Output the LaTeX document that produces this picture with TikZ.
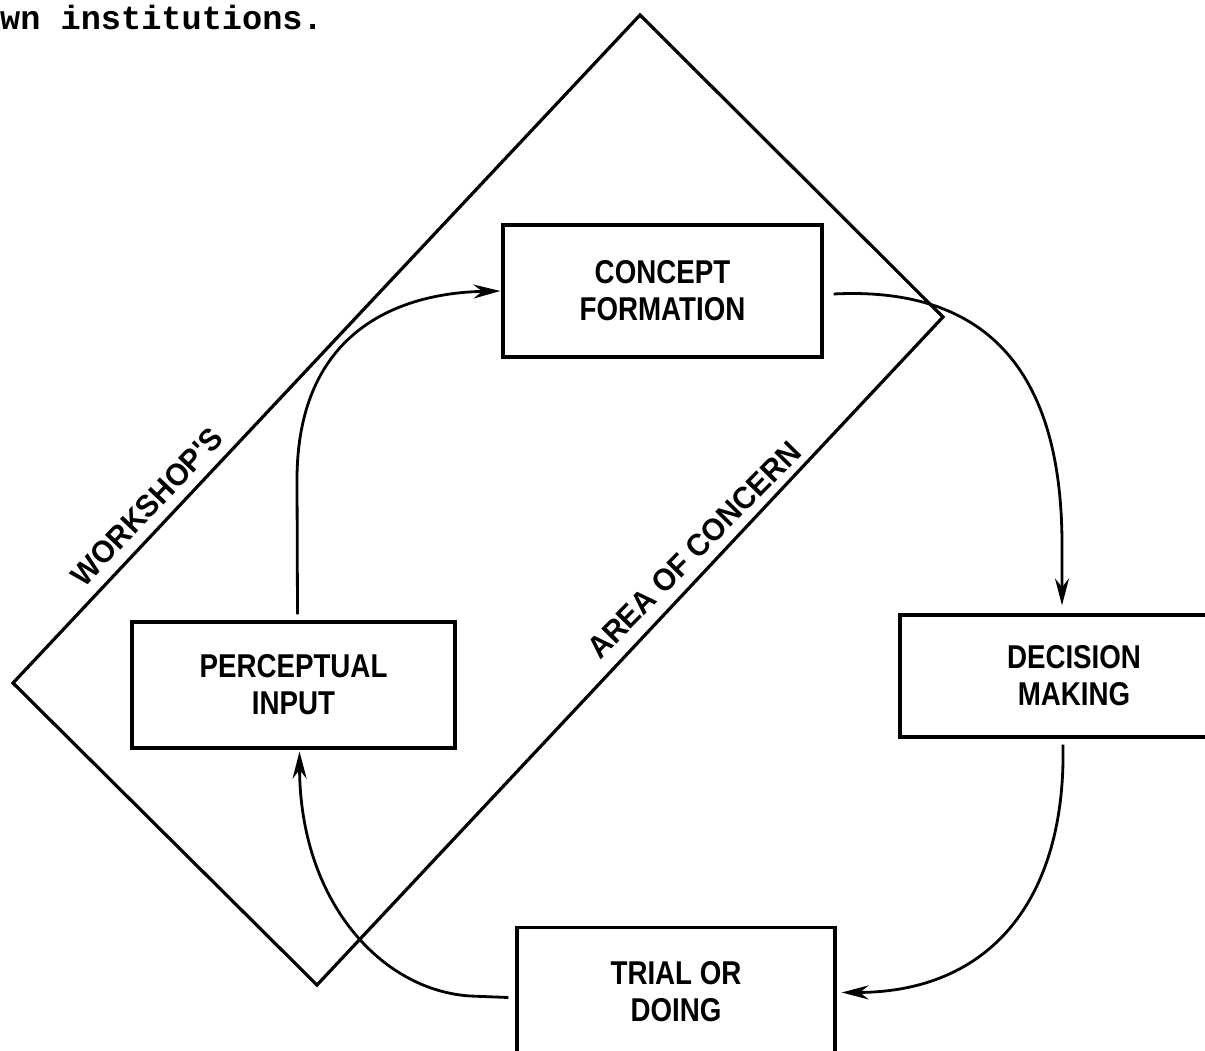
\documentclass[tikz,border=0pt]{standalone}
\usepackage{fontspec}
\usepackage{tikz}
\usetikzlibrary{arrows.meta,shapes}
\newfontfamily\boxfont[FakeStretch=0.84]{Liberation Sans}
\newfontfamily\edgefont[FakeStretch=0.95]{Liberation Sans}
\newfontfamily\typefont{Liberation Mono}
\tikzstyle{stage}=[rectangle,draw=black,line width=3.2pt,align=center,inner sep=0pt,font=\boxfont\bfseries\fontsize{33}{37}\selectfont]
\tikzstyle{edgelbl}=[inner sep=0pt,font=\edgefont\bfseries\fontsize{31}{37}\selectfont]
\tikzstyle{cycle}=[->, line width=2.8pt]

\begin{document}
\begin{tikzpicture}[x=1pt,y=-1pt,>={Stealth[length=27pt,width=14pt]}]
\useasboundingbox (0,0) rectangle (1205,1050);
\clip (0,0) rectangle (1205,1050);
\node[anchor=base west,inner sep=0pt,font=\typefont\bfseries\fontsize{33.6}{36}\selectfont] (txt) at (0,29) {wn institutions.};
% area of concern
\coordinate (top) at (640,15);
\coordinate (rgt) at (943,317);
\coordinate (bot) at (317,985);
\coordinate (lft) at (13,683);
\draw[line width=3.2pt,line join=miter] (top)--(rgt)--(bot)--(lft)--cycle;
\node[edgelbl,rotate=46.5] (W) at (147,507) {WORKSHOP'S};
\node[edgelbl,rotate=45.5] (AC) at (694,550) {AREA OF CONCERN};
% stages
\node[stage,minimum width=319pt,minimum height=132pt] (C) at (662.5,291) {CONCEPT\\FORMATION};
\node[stage,minimum width=323pt,minimum height=126pt] (P) at (293.5,685) {PERCEPTUAL\\INPUT};
\node[stage,minimum width=348pt,minimum height=122pt] (D) at (1074,676) {DECISION\\MAKING};
\node[stage,minimum width=318pt,minimum height=128pt] (T) at (676,991.5) {TRIAL OR\\DOING};
% the cycle
\draw[cycle] ([xshift=4pt,yshift=6pt]P.north) -- (297,480) .. controls (297,330) and (400,293) .. ([xshift=-1pt]C.west);
\draw[cycle] ([xshift=10pt,yshift=-3pt]C.east) .. controls (1010,285) and (1062,400) .. (1062,545) -- ([xshift=-12pt,yshift=8pt]D.north);
\draw[cycle] ([xshift=-11pt,yshift=-6pt]D.south) .. controls (1066,900) and (990,992) .. ([xshift=5pt,yshift=-1pt]T.east);
\draw[cycle] ([xshift=-7pt,yshift=-6pt]T.west) -- (470,996) .. controls (380,990) and (300,900) .. ([xshift=6pt,yshift=-2pt]P.south);
\end{tikzpicture}
\end{document}
